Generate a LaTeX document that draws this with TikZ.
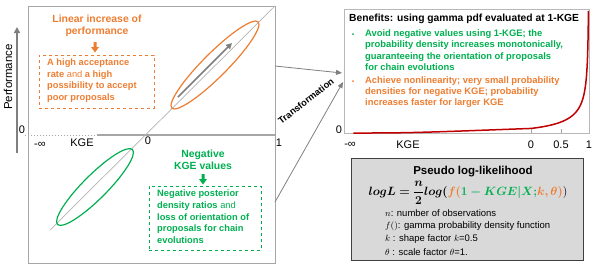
\documentclass[tikz,border=0pt]{standalone}
\usepackage{amsmath,bm}
\usepackage{fontspec}
\setmainfont{Liberation Sans}
\usetikzlibrary{shapes.geometric,arrows.meta}
\definecolor{korange}{HTML}{ED7D31}
\definecolor{kgreen}{HTML}{00B050}
\definecolor{kred}{HTML}{C00000}
\definecolor{kgray}{HTML}{A6A6A6}
\definecolor{kdgray}{HTML}{7F7F7F}
\definecolor{kbox}{HTML}{D9D9D9}
\tikzset{
  boxframe/.style={inner sep=0pt, anchor=north west},
  axlbl/.style={font=\fontsize{11}{12}\selectfont, inner sep=0pt},
  bodytxt/.style={font=\bfseries\fontsize{9.3}{11.6}\selectfont, align=left, anchor=north west, inner sep=0pt},
  titletxt/.style={font=\bfseries\fontsize{10.4}{12}\selectfont, align=center, inner sep=0pt},
  connarrow/.style={kdgray, line width=0.8pt, -{Triangle[length=6pt,width=5pt]}},
  kgeell/.style={ellipse, line width=1.2pt, minimum height=24pt, inner sep=0pt, rotate=45},
  fline/.style={anchor=west, font=\fontsize{9.5}{11}\selectfont, inner sep=0pt}
}
\begin{document}
\begin{tikzpicture}[x=1pt,y=-1pt]
\useasboundingbox (0,0) rectangle (600,269);

% ---------- left panel ----------
\node[boxframe, draw=kgray, line width=1pt, minimum width=247pt, minimum height=257pt] (lbox) at (28,6) {};
\draw[kgray, dotted, line width=1pt] (25,135) -- (97,135);
\draw[kgray, line width=1.5pt] (97,135) -- (275,135);
\draw[kdgray, line width=1.5pt, -{Triangle[length=6pt,width=6pt]}] (17,153) -- (17,27);
\node[rotate=90, font=\fontsize{11.5}{12}\selectfont, inner sep=0pt] (perf) at (8,77) {Performance};
\node[axlbl] (lzero) at (22,130) {0};
\node[axlbl] (lminf) at (40,145) {-∞};
\node[axlbl] (lkge) at (82,143) {KGE};
\node[axlbl] (lz2) at (148,141) {0};
\node[axlbl] (lone) at (279,143) {1};
\draw[kgray!85, line width=0.7pt] (50,230) -- (275,6);

\node[kgeell, draw=korange, minimum width=122pt] (oell) at (215,65) {};
\draw[kdgray, line width=1.5pt, -{Triangle[length=6pt,width=6pt]}] (178,97) -- (232,43);
\node[kgeell, draw=kgreen, minimum width=106pt] (gell) at (95,187) {};

\node[titletxt, text=korange] (otitle) at (97,26) {Linear increase of\\performance};
\fill[korange] (93.5,42) -- (96.5,42) -- (96.5,47) -- (99,47) -- (95,52.5) -- (91,47) -- (93.5,47) -- cycle;
\node[boxframe, draw=korange, dashed, line width=0.8pt, minimum width=115pt, minimum height=53pt] (obox) at (39,55) {};
\node[bodytxt, text=korange] (otext) at (47,58.5) {A high acceptance\\rate \textmd{and} a high\\possibility to accept\\poor proposals};

\node[titletxt, text=kgreen] (gtitle) at (203,160) {Negative\\KGE values};
\fill[kgreen] (201.5,174) -- (204.5,174) -- (204.5,179) -- (207,179) -- (203,184.5) -- (199,179) -- (201.5,179) -- cycle;
\node[boxframe, draw=kgreen, dashed, line width=0.8pt, minimum width=112pt, minimum height=64pt] (gbox) at (149,186) {};
\node[bodytxt, text=kgreen] (gtext) at (157,190) {Negative posterior\\density ratios \textmd{and}\\loss of orientation of\\proposals for chain\\evolutions};

% ---------- connectors ----------
\coordinate (a1s) at (275,66);
\coordinate (a1e) at (342,73);
\coordinate (a2s) at (275,202);
\coordinate (a2e) at (343,82);
\draw[connarrow] (a1s) -- (a1e);
\draw[connarrow] (a2s) -- (a2e);
\node[rotate=38, font=\bfseries\fontsize{9.3}{11}\selectfont, inner sep=0pt] (trans) at (306,101) {Transformation};

% ---------- right plot ----------
\node[boxframe, draw=kgray!80, line width=0.8pt, minimum width=245pt, minimum height=124pt] (rbox) at (344,9) {};
\draw[kgray, line width=0.8pt] (531,129) -- (531,133) (561,129) -- (561,133);
\draw[kred, line width=1.5pt]
  plot[domain=0.05:1, samples=40, smooth] ({344+187*\x},{133-12.41*sqrt(\x)*exp(-1/\x)})
  -- plot[domain=1:0.1, samples=60, smooth] ({531+58*(1-\x*\x)},{133-12.41*exp(-\x*\x)/\x});
\node[axlbl] (rzero) at (339,130) {0};
\node[axlbl] (rminf) at (350,145) {-∞};
\node[axlbl] (rkge) at (408,145) {KGE};
\node[axlbl] (rz) at (531,144.5) {0};
\node[axlbl] (rhalf) at (561,144.5) {0.5};
\node[axlbl] (rone) at (589,144.5) {1};

\node[anchor=west, font=\bfseries\fontsize{10.3}{12}\selectfont, inner sep=0pt] (bentitle) at (349,19) {Benefits: using gamma pdf evaluated at 1-KGE};
\fill[kgreen] (353,34) circle (1pt);
\fill[korange] (353,81) circle (1pt);
\node[bodytxt, text=kgreen, font=\bfseries\fontsize{9.4}{11.6}\selectfont] (bgreen) at (365,29) {Avoid negative values using 1-KGE; the\\probability density increases monotonically,\\guaranteeing the orientation of proposals\\for chain evolutions};
\node[bodytxt, text=korange, font=\bfseries\fontsize{9.4}{11.2}\selectfont] (borange) at (365,76) {Achieve nonlinearity; very small probability\\densities for negative KGE; probability\\increases faster for larger KGE};

% ---------- formula box ----------
\node[boxframe, draw=black!75, fill=kbox, line width=1pt, minimum width=232pt, minimum height=102pt] (fbox) at (351,158) {};
\node[font=\bfseries\fontsize{11.5}{13}\selectfont, inner sep=0pt] (ftitle) at (473,172) {Pseudo log-likelihood};
\node[font=\fontsize{11.5}{14}\selectfont, inner sep=0pt] (formula) at (468,193) {$\displaystyle\bm{logL=\frac{n}{2}log(}\textcolor{korange}{\bm{f(}}\textcolor{kgreen}{\bm{1-KGE|X;}}\textcolor{korange}{\bm{k,\theta)}})$};
\node[fline] (f1) at (385,213) {$n$: number of observations};
\node[fline] (f2) at (385,226) {$f()$: gamma probability density function};
\node[fline] (f3) at (385,239) {$k$ : shape factor $k$=0.5};
\node[fline] (f4) at (385,252) {$\theta$ : scale factor $\theta$=1.};
\end{tikzpicture}
\end{document}
